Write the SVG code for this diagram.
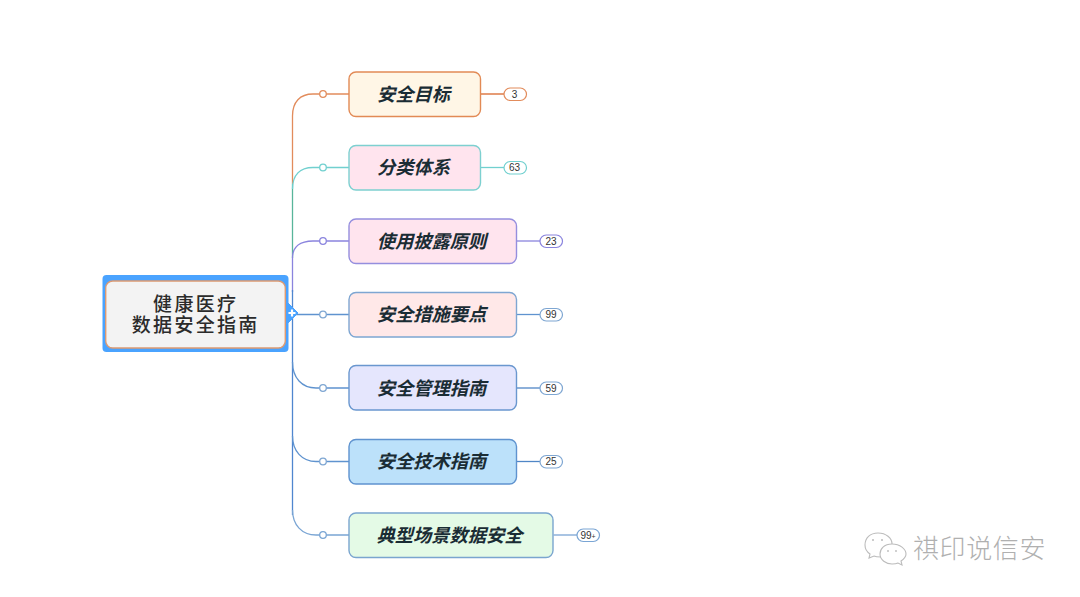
<svg xmlns="http://www.w3.org/2000/svg" width="1080" height="597" viewBox="0 0 1080 597">
<style>
text{font-family:"Noto Sans CJK SC","Liberation Sans",sans-serif}
.t{font-size:18.25px;font-weight:700;font-style:italic;fill:#1a2c34;text-anchor:middle}
.c{font-size:19px;font-weight:500;fill:#2b2b2b;text-anchor:middle;letter-spacing:2.3px}
.n{font-size:10px;fill:#333;text-anchor:middle;font-family:"Liberation Sans",sans-serif}
.l{fill:none;stroke-width:1.3}
.d{fill:#fff;stroke-width:1.3}
.b{stroke-width:1.4}
.p{fill:#fff;stroke-width:1.2}
.w{fill:none;stroke:#bcbcbc;stroke-width:1.1}
</style>
<rect width="1080" height="597" fill="#fff"/>
<g id="connectors">
<path class="l" stroke="#e28c5c" d="M349 94H313C300 94 292.500 102 292.500 116V184"/>
<path class="l" stroke="#58b59a" d="M292.500 184V258"/>
<path class="l" stroke="#71d0cf" d="M349 167.500H313C300 167.500 292.500 175 292.500 189"/>
<path class="l" stroke="#8a84de" d="M349 241H313C300 241 292.500 247 292.500 258V292"/>
<path class="l" stroke="#4f86cf" d="M292.500 290V515"/>
<path class="l" stroke="#5f93cf" d="M349 314.500H292"/>
<path class="l" stroke="#5f93cf" d="M349 388H316C302 388 292.500 378 292.500 362"/>
<path class="l" stroke="#5f93cf" d="M349 461.500H316C302 461.500 292.500 451 292.500 436"/>
<path class="l" stroke="#7aa5d4" d="M349 535H316C302 535 292.500 525 292.500 510"/>
<path class="l" stroke="#d8662a" d="M481 94H504"/>
<path class="l" stroke="#71d0cf" d="M481 167.500H504"/>
<path class="l" stroke="#8a84de" d="M517 241H540"/>
<path class="l" stroke="#5f93cf" d="M517 314.500H540"/>
<path class="l" stroke="#4f86c6" d="M517 388H540"/>
<path class="l" stroke="#4f86c6" d="M517 461.500H540"/>
<path class="l" stroke="#7aa5d4" d="M553.500 535H577"/>
<circle class="d" stroke="#e28c5c" cx="323" cy="94" r="3.300"/>
<circle class="d" stroke="#71d0cf" cx="323" cy="167.500" r="3.300"/>
<circle class="d" stroke="#8a84de" cx="323" cy="241" r="3.300"/>
<circle class="d" stroke="#7ea6d2" cx="323" cy="314.500" r="3.300"/>
<circle class="d" stroke="#7ea6d2" cx="323" cy="388" r="3.300"/>
<circle class="d" stroke="#7ea6d2" cx="323" cy="461.500" r="3.300"/>
<circle class="d" stroke="#7aa5d4" cx="323" cy="535" r="3.300"/>
</g>
<g id="root">
<rect x="102.500" y="275" width="186" height="77" rx="4" fill="#4aa3ff"/>
<rect x="105.700" y="281" width="179.600" height="67" rx="7" fill="#f3f3f3" stroke="#dd9a72" stroke-width="1.400"/>
<path d="M287 302L298 313L287 324Z" fill="#4aa3ff" stroke="#4aa3ff" stroke-linejoin="round"/>
<path d="M288.500 313H295.500M292 309.500V316.500" stroke="#fff" stroke-width="2.200" fill="none"/>
<text class="c"><tspan x="195.700" y="311">健康医疗</tspan><tspan x="195.700" y="332">数据安全指南</tspan></text>
</g>
<g id="n1"><rect class="b" x="349" y="72" width="131.500" height="44.500" rx="7" fill="#fff6e6" stroke="#e28a55"/><text class="t" x="413.500" y="100.500">安全目标</text></g>
<g id="n2"><rect class="b" x="349" y="145.500" width="131.500" height="44.500" rx="7" fill="#ffe4ee" stroke="#7dd0d0"/><text class="t" x="413.500" y="174">分类体系</text></g>
<g id="n3"><rect class="b" x="349" y="219" width="167.500" height="44.500" rx="7" fill="#ffe4ee" stroke="#958ede"/><text class="t" x="431.500" y="247.500">使用披露原则</text></g>
<g id="n4"><rect class="b" x="349" y="292.500" width="167.500" height="44.500" rx="7" fill="#ffe8e8" stroke="#7ea6d2"/><text class="t" x="431.500" y="321">安全措施要点</text></g>
<g id="n5"><rect class="b" x="349" y="365.500" width="167.500" height="44.500" rx="7" fill="#e5e6fd" stroke="#6a97cf"/><text class="t" x="431.500" y="394.500">安全管理指南</text></g>
<g id="n6"><rect class="b" x="349" y="439.500" width="167.500" height="44.500" rx="7" fill="#bce1fa" stroke="#5f93cf"/><text class="t" x="431.500" y="468">安全技术指南</text></g>
<g id="n7"><rect class="b" x="349" y="513" width="204" height="44.500" rx="7" fill="#e4fae6" stroke="#7aa5cf"/><text class="t" x="449.500" y="541.500">典型场景数据安全</text></g>
<g id="c1"><rect class="p" x="504" y="88" width="22.500" height="12.500" rx="6.250" stroke="#e28c5c"/><text class="n" x="514.500" y="97.800">3</text></g>
<g id="c2"><rect class="p" x="504" y="161.500" width="22.500" height="12.500" rx="6.250" stroke="#71d0cf"/><text class="n" x="514.500" y="171.300">63</text></g>
<g id="c3"><rect class="p" x="540" y="235" width="22.500" height="12.500" rx="6.250" stroke="#8a84de"/><text class="n" x="551" y="244.800">23</text></g>
<g id="c4"><rect class="p" x="540" y="308.500" width="22.500" height="12.500" rx="6.250" stroke="#7ea6d2"/><text class="n" x="551" y="318.300">99</text></g>
<g id="c5"><rect class="p" x="540" y="382" width="22.500" height="12.500" rx="6.250" stroke="#7ea6d2"/><text class="n" x="551" y="391.800">59</text></g>
<g id="c6"><rect class="p" x="540" y="455.500" width="22.500" height="12.500" rx="6.250" stroke="#7ea6d2"/><text class="n" x="551" y="465.300">25</text></g>
<g id="c7"><rect class="p" x="577" y="529" width="22.500" height="12.500" rx="6.250" stroke="#7aa5d4"/><text class="n" x="588" y="538.800">99<tspan font-size="7">+</tspan></text></g>
<g id="watermark">
<path class="w" d="M878 533C870 533 865 538 865 545C865 549 867 552 870 554L869 558L874 556C876 557 879 557 881 557"/>
<path class="w" d="M878 533C886 533 892 538 892 544"/>
<path class="w" d="M892 544C884 544 880 549 880 554C880 560 886 564 892 564C894 564 896 564 898 563L902 565L901 561C904 559 906 557 906 554C906 549 900 544 892 544Z"/>
<circle cx="873" cy="540" r="1" fill="#bbb"/><circle cx="882" cy="540" r="1" fill="#bbb"/><circle cx="888" cy="551" r=".9" fill="#bbb"/><circle cx="896" cy="551" r=".9" fill="#bbb"/>
<text x="913" y="558" font-size="26" letter-spacing=".6" fill="#b0b0b0" font-weight="300">祺印说信安</text>
</g>
</svg>
